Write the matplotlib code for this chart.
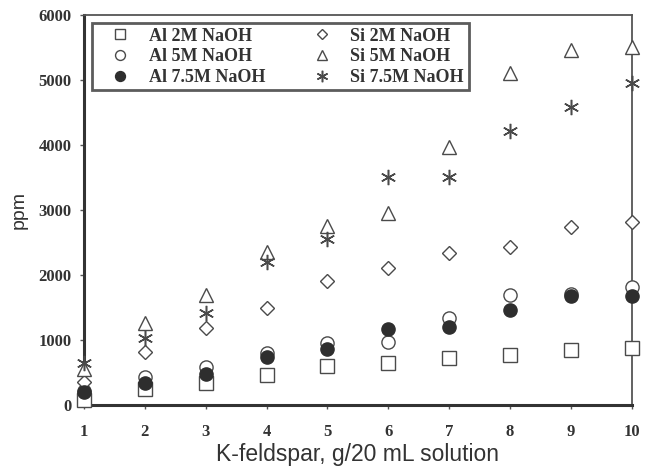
import matplotlib

matplotlib.use("Agg")
import matplotlib.pyplot as plt

# K-feldspar loading, g per 20 mL
x = [1, 2, 3, 4, 5, 6, 7, 8, 9, 10]

# dissolved Al / Si, ppm
al_2m = [80, 245, 345, 460, 600, 640, 718, 770, 845, 870]
al_5m = [220, 435, 580, 805, 950, 975, 1333, 1690, 1700, 1810]
al_75m = [205, 345, 475, 745, 855, 1170, 1195, 1460, 1680, 1680]
si_2m = [360, 820, 1180, 1490, 1910, 2113, 2345, 2435, 2735, 2820]
si_5m = [560, 1255, 1690, 2360, 2754, 2950, 3975, 5100, 5460, 5510]
si_75m = [645, 1025, 1420, 2195, 2550, 3512, 3512, 4215, 4590, 4950]

edge = "#4a4a4a"
serif_bold = {"family": "Liberation Serif", "weight": "bold"}

fig = plt.figure(figsize=(6.46, 4.66), dpi=100)
ax = fig.add_axes([0.130, 0.131, 0.848, 0.837])

ms = 9.5
ax.plot(x, al_2m, "s", ms=ms, mfc="white", mec=edge, mew=1.0, label="Al 2M NaOH", clip_on=False, zorder=3)
ax.plot(x, al_5m, "o", ms=ms, mfc="white", mec=edge, mew=1.0, label="Al 5M NaOH", clip_on=False, zorder=3)
ax.plot(x, al_75m, "o", ms=ms, mfc="#2e2e2e", mec="#2e2e2e", mew=1.0, label="Al 7.5M NaOH", clip_on=False, zorder=4)
ax.plot(x, si_2m, "D", ms=ms - 2.5, mfc="white", mec=edge, mew=1.0, label="Si 2M NaOH", clip_on=False, zorder=3)
ax.plot(x, si_5m, "^", ms=ms + 1, mfc="white", mec=edge, mew=1.0, label="Si 5M NaOH", clip_on=False, zorder=3)
ax.plot(x, si_75m, marker=(6, 2, 0), ls="none", ms=ms + 1.5, mfc="none", mec=edge, mew=1.1,
        label="Si 7.5M NaOH", clip_on=False, zorder=3)

ax.set_xlim(1, 10)
ax.set_ylim(0, 6000)
ax.set_xticks(x)
ax.set_yticks(range(0, 6001, 1000))

for side in ["left", "bottom"]:
    ax.spines[side].set_linewidth(2.2)
    ax.spines[side].set_color("#333333")
for side in ["top", "right"]:
    ax.spines[side].set_linewidth(1.3)
    ax.spines[side].set_color("#555555")

ax.tick_params(axis="both", direction="out", length=3, width=1, color="#555555", labelcolor="#333333")
ax.tick_params(axis="x", pad=11)
ax.tick_params(axis="y", pad=6)
for lbl in ax.get_xticklabels() + ax.get_yticklabels():
    lbl.set_fontfamily("Liberation Serif")
    lbl.set_fontweight("bold")
    lbl.set_fontsize(12)

ax.set_xlabel("K-feldspar, g/20 mL solution", fontfamily="Liberation Sans", fontsize=16.5, color="#333333", labelpad=2)
ax.set_ylabel("ppm", fontfamily="Liberation Sans", fontsize=14, color="#333333", labelpad=8)

leg = ax.legend(ncol=2, loc="upper left", bbox_to_anchor=(0.015, 0.979), prop={**serif_bold, "size": 13},
                frameon=True, fancybox=False, edgecolor="#333333", borderpad=0.25, labelspacing=0.2,
                columnspacing=1.8, handletextpad=0.3, handlelength=2.6, borderaxespad=0, markerscale=0.75)
leg.get_frame().set_linewidth(2.0)
for t in leg.get_texts():
    t.set_color("#333333")

fig.savefig("out.png", dpi=100)
